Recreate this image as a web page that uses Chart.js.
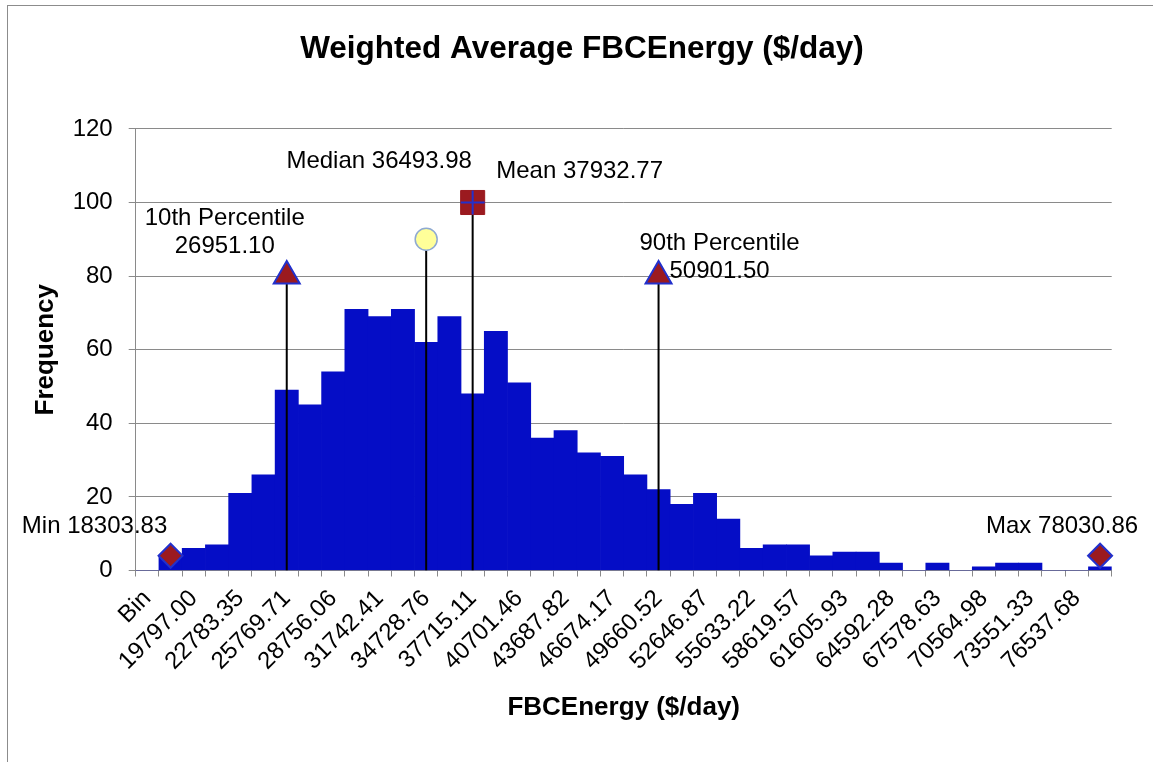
<!DOCTYPE html>
<html>
<head>
<meta charset="utf-8">
<title>Weighted Average FBCEnergy ($/day)</title>
<script src="https://cdn.jsdelivr.net/npm/chart.js@4.4.1/dist/chart.umd.min.js"></script>
<style>
  html, body { margin: 0; padding: 0; background: #fff; overflow: hidden; }
  body { width: 1153px; height: 762px; position: relative; }
  #frame { position: absolute; left: 7px; top: 5px; width: 1170px; height: 780px;
           border-left: 1px solid #8c8c8c; border-top: 1px solid #8c8c8c; }
  #histChart { position: absolute; left: 8px; top: 6px; }
</style>
</head>
<body>
<div id="frame"></div>
<canvas id="histChart" width="1148" height="756"></canvas>
<script>
/* ================= DATA ================= */
var chartTitle = "Weighted Average FBCEnergy ($/day)";
var xTitle = "FBCEnergy ($/day)";
var yTitle = "Frequency";

// bin upper bounds (every other one is shown on the axis)
var binLabels = [
    "Bin", "18303.83", "19797.00", "21290.18", "22783.35", "24276.53",
    "25769.71", "27262.88", "28756.06", "30249.23", "31742.41", "33235.58",
    "34728.76", "36221.93", "37715.11", "39208.28", "40701.46", "42194.64",
    "43687.82", "45180.99", "46674.17", "48167.34", "49660.52", "51153.69",
    "52646.87", "54140.04", "55633.22", "57126.39", "58619.57", "60112.75",
    "61605.93", "63099.10", "64592.28", "66085.45", "67578.63", "69071.80",
    "70564.98", "72058.15", "73551.33", "75044.50", "76537.68", "78030.86"
];
var frequency = [
    0, 4, 6, 7, 21, 26,
    49, 45, 54, 71, 69, 71,
    62, 69, 48, 65, 51, 36,
    38, 32, 31, 26, 22, 18,
    21, 14, 6, 7, 7, 4,
    5, 5, 2, 0, 2, 0,
    1, 2, 2, 0, 0, 1
];
var yTicks = [0, 20, 40, 60, 80, 100, 120];

// summary statistics drawn as markers over the histogram
var markerNames = ["Min", "10th Percentile", "Median", "Mean", "90th Percentile", "Max"];
var markerValues = [18303.83, 26951.10, 36493.98, 37932.77, 50901.50, 78030.86];
var markerBins = ["18303.83", "25769.71", "34728.76", "37715.11", "49660.52", "78030.86"];
var markerHeights = [4, 80, 90, 100, 80, 4];

/* ================= STYLE ================= */
var FONT = "'Liberation Sans', Arial, Helvetica, sans-serif";
var BAR_COLOR = "#050DC6";
var DARK_RED = "#9B1A1F";
var EDGE_BLUE = "#2230CC";
var GRID = "#8a8a8a";

var markerStyles = [
    { style: "rectRot", radius: 12, fill: DARK_RED, edge: EDGE_BLUE, edgeWidth: 2, stem: false, twoLine: false, dx: -76, dy: -29 },
    { style: "triangle", radius: 15, fill: DARK_RED, edge: EDGE_BLUE, edgeWidth: 2, stem: true, twoLine: true, dx: -62, dy: -58 },
    { style: "circle", radius: 11, fill: "#FFFF99", edge: "#8FAAD2", edgeWidth: 1.5, stem: true, twoLine: false, dx: -47, dy: -78 },
    { style: "rect", radius: 17, fill: DARK_RED, edge: DARK_RED, edgeWidth: 1, stem: true, twoLine: false, dx: 107, dy: -31 },
    { style: "triangle", radius: 15, fill: DARK_RED, edge: EDGE_BLUE, edgeWidth: 2, stem: true, twoLine: true, dx: 61, dy: -33 },
    { style: "rectRot", radius: 12, fill: DARK_RED, edge: EDGE_BLUE, edgeWidth: 2, stem: false, twoLine: false, dx: -38, dy: -29 }
];
var LABEL_LINE_GAP = 28;

/* ================= DATASETS ================= */
function buildDatasets() {
    var list = [{
        type: "bar",
        label: yTitle,
        data: frequency,
        backgroundColor: BAR_COLOR,
        borderWidth: 0,
        barPercentage: 1,
        categoryPercentage: 1,
        order: 10
    }];
    markerNames.forEach(function (name, i) {
        var s = markerStyles[i];
        list.push({
            type: "line",
            label: name,
            data: [{ x: markerBins[i], y: 0 }, { x: markerBins[i], y: markerHeights[i] }],
            showLine: s.stem,
            borderColor: "#000",
            borderWidth: 2,
            pointRadius: [0, s.radius],
            pointStyle: s.style,
            pointBackgroundColor: s.fill,
            pointBorderColor: s.edge,
            pointBorderWidth: s.edgeWidth,
            order: 1
        });
    });
    // blue cross on the mean marker
    list.push({
        type: "line",
        label: "Mean cross",
        data: [{ x: markerBins[3], y: markerHeights[3] }],
        showLine: false,
        pointRadius: 12,
        pointStyle: "cross",
        pointBorderColor: EDGE_BLUE,
        pointBorderWidth: 2,
        order: 0
    });
    return list;
}

function markerText(i) {
    var v = markerValues[i].toFixed(2);
    return markerStyles[i].twoLine ? [markerNames[i], v] : [markerNames[i] + " " + v];
}

/* ================= PLUGIN ================= */
var markerLabelPlugin = {
    id: "markerLabels",
    afterDatasetsDraw: function (chart) {
        var c = chart.ctx;
        c.save();
        c.font = "24px " + FONT;
        c.fillStyle = "#000";
        c.textAlign = "center";
        c.textBaseline = "middle";
        markerNames.forEach(function (name, i) {
            var pt = chart.getDatasetMeta(i + 1).data[1];
            if (!pt) return;
            var s = markerStyles[i];
            markerText(i).forEach(function (line, k) {
                c.fillText(line, pt.x + s.dx, pt.y + s.dy + k * LABEL_LINE_GAP);
            });
        });
        c.restore();
    }
};

/* ================= CHART ================= */
document.addEventListener("DOMContentLoaded", function () {
    var ctx = document.getElementById("histChart").getContext("2d");
    new Chart(ctx, {
        type: "bar",
        data: { labels: binLabels, datasets: buildDatasets() },
        options: {
            responsive: false,
            animation: false,
            devicePixelRatio: 1,
            layout: { padding: 0 },
            plugins: {
                legend: { display: false },
                tooltip: { enabled: false },
                title: {
                    display: true,
                    text: chartTitle,
                    color: "#000",
                    font: { family: FONT, size: 31.5, weight: "bold" },
                    padding: { top: 24.4, bottom: 60.7 }
                }
            },
            scales: {
                x: {
                    type: "category",
                    offset: true,
                    grid: { display: true, drawOnChartArea: false, drawTicks: true, tickLength: 6, color: GRID, offset: true },
                    border: { display: true, color: GRID, width: 1 },
                    ticks: {
                        autoSkip: false,
                        maxRotation: 45,
                        minRotation: 45,
                        padding: 8,
                        color: "#000",
                        font: { family: FONT, size: 24 },
                        callback: function (value, index) {
                            return index % 2 === 0 ? this.getLabelForValue(value) : "";
                        }
                    },
                    title: {
                        display: true,
                        text: xTitle,
                        color: "#000",
                        font: { family: FONT, size: 26, weight: "bold" },
                        padding: { top: 0, bottom: 39 }
                    },
                    afterFit: function (scale) { scale.height = 191.5; }
                },
                y: {
                    min: yTicks[0],
                    max: yTicks[yTicks.length - 1],
                    afterBuildTicks: function (scale) {
                        scale.ticks = yTicks.map(function (v) { return { value: v }; });
                    },
                    grid: { color: GRID, tickLength: 7, lineWidth: 1 },
                    border: { display: true, color: GRID, width: 1 },
                    ticks: { padding: 16, color: "#000", font: { family: FONT, size: 24 } },
                    title: {
                        display: true,
                        text: yTitle,
                        color: "#000",
                        font: { family: FONT, size: 26, weight: "bold" },
                        padding: { top: 22.4, bottom: 0 }
                    },
                    afterFit: function (scale) { scale.width = 127.7; }
                },
                // empty right-hand strip so the plot ends where the reference does
                yRight: {
                    position: "right",
                    min: yTicks[0],
                    max: yTicks[yTicks.length - 1],
                    grid: { display: false, drawTicks: false },
                    border: { display: false },
                    ticks: { display: false },
                    afterFit: function (scale) { scale.width = 44.3; }
                }
            }
        },
        plugins: [markerLabelPlugin]
    });
});
</script>
</body>
</html>
